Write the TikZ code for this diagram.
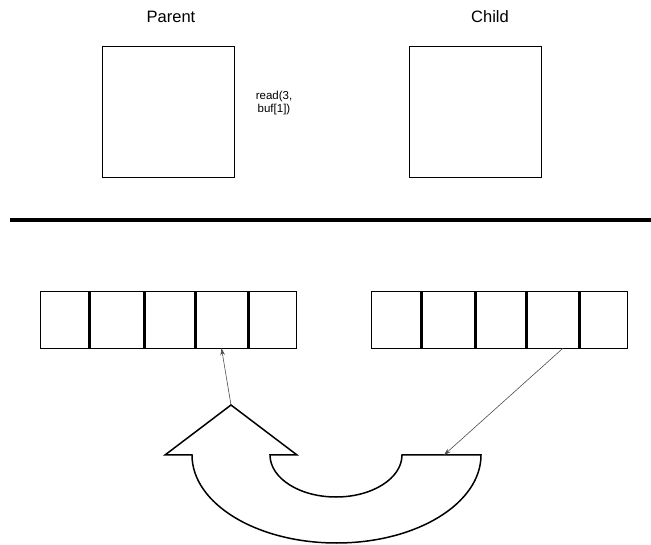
\documentclass[tikz,border=0pt]{standalone}
\usepackage{fontspec}
\setmainfont{Liberation Sans}
\usetikzlibrary{arrows.meta}
\begin{document}
\begin{tikzpicture}[x=1pt,y=1pt,
  lbl/.style={font=\fontsize{16.5}{19}\selectfont, inner sep=0pt},
  procbox/.style={draw, line width=0.9pt, minimum width=132pt, minimum height=131pt, inner sep=0pt},
  cell/.style={minimum height=57pt, inner sep=0pt},
  arr/.style={draw, line width=0.9pt, minimum width=256pt, minimum height=57pt, inner sep=0pt},
  divider/.style={line width=3pt},
  conn/.style={draw=black!70, line width=0.6pt, -{Stealth[length=7pt,width=4.5pt]}},
  ushape/.style={line width=1.5pt, line join=miter}
]
\useasboundingbox (0,0) rectangle (651,544);

\node[lbl] (plabel) at (171,527) {Parent};
\node[lbl] (clabel) at (490,527) {Child};
\node[procbox] (parent) at (168,432.5) {};
\node[procbox] (child) at (475,432.5) {};
\node[font=\fontsize{11.5}{13}\selectfont, align=center, inner sep=0pt] (readtxt) at (274,441) {read(3,\\buf[1])};

\draw[line width=4pt] (10,324) coordinate (hl) -- (651,324) coordinate (hr);

% left array
\node[arr] (larr) at (168,224.5) {};
\node[cell, minimum width=49pt] (l1) at (64.5,224.5) {};
\node[cell, minimum width=55pt] (l2) at (116.5,224.5) {};
\node[cell, minimum width=51pt] (l3) at (169.5,224.5) {};
\node[cell, minimum width=53pt] (l4) at (221.5,224.5) {};
\node[cell, minimum width=48pt] (l5) at (272,224.5) {};
\foreach \a/\b in {l1/l2,l2/l3,l3/l4,l4/l5}
  \draw[divider] (\a.north east) -- (\a.south east);

% right array
\node[arr] (rarr) at (499,224.5) {};
\node[cell, minimum width=50pt] (r1) at (396,224.5) {};
\node[cell, minimum width=54pt] (r2) at (448,224.5) {};
\node[cell, minimum width=51pt] (r3) at (500.5,224.5) {};
\node[cell, minimum width=53pt] (r4) at (552.5,224.5) {};
\node[cell, minimum width=48pt] (r5) at (603,224.5) {};
\foreach \a/\b in {r1/r2,r2/r3,r3/r4,r4/r5}
  \draw[divider] (\a.north east) -- (\a.south east);

% U-turn arrow
\draw[ushape] (231,139) coordinate (tip)
  -- (297,89) -- (270,89)
  arc[start angle=180, end angle=360, x radius=66, y radius=42]
  -- (444,89) coordinate (rin) -- (481,89)
  arc[start angle=0, end angle=-180, x radius=144.5, y radius=88]
  -- (165,89) -- cycle;

\coordinate (rstart) at ([xshift=10.5pt]r4.south);
\draw[conn] (tip) -- (l4.south);
\draw[conn] (rstart) -- (rin);
\end{tikzpicture}
\end{document}
